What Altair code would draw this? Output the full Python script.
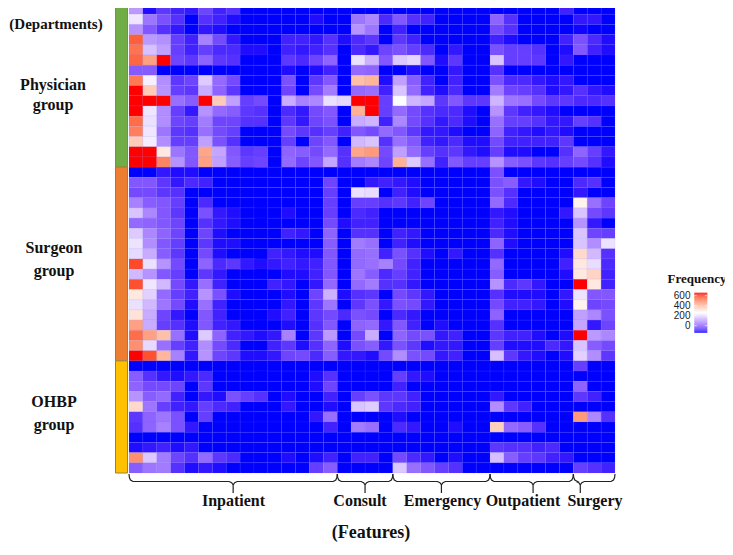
import altair as alt
import pandas as pd

N_COLS, N_ROWS = 35, 46
PLOT_W, PLOT_H = 486, 469
LEFT, TOP = 129, 4

physician_rows = [
 [100,-110,-60,-90,-100,-40,-90,-70,-130,-130,-130,-120,-130,-130,-130, -130,-120,-130,-130, -130,-130,-130,-130,-130,-130,-130, -125,-130,-130,-130,-130,-90, -130,-125,-125],
 [225,40,-20,-70,-130,-70,-90,-110,-130,-130,-130,-130,-130,-110,-130, -130,40,70,-80, -10,-70,-90,-130,-125,-130,-130, 10,-70,-125,-125,-130,-125, -100,-100,-130],
 [90,-10,-70,-100,-130,-100,-110,-120,-130,-130,-130,-130,-130,-120,-130, -130,90,40,-130, -90,-120,-130,-130,-130,-130,-130, -30,-70,-125,-130,-130,-130, -115,-120,-130],
 [560,100,85,-50,-90,60,-30,-100,-125,-130,-130,-90,-90,-100,-70, -110,-80,-60,-130, -60,-90,-120,-130,-125,-130,-130, -90,-110,-130,-130,-130,-90, -20,-80,-110],
 [530,165,110,-50,-90,-50,-80,-80,-110,-110,-120,-90,-100,-90,-70, -120,-80,-100,-40, -20,-50,-80,-130,-100,-125,-130, -20,-50,-50,-70,-120,-110, -10,-90,-110],
 [550,450,640,-40,-60,10,-60,-70,-130,-130,-130,-60,-80,-40,10, -130,215,140,-10, 175,200,-10,-110,-60,-130,-120, 170,-50,-50,-60,-120,-100, -120,-125,-125],
 [-5,-5,-130,-140,-140,-120,-120,-130,-130,-130,-130,-110,-130,-110,-90, -130,20,10,-125, -120,-110,-135,-135,-100,-120,-125, -70,-135,-135,-130,-130,-130, -125,-125,-125],
 [520,240,80,-60,-40,180,20,-30,-130,-130,-130,-20,-120,-60,-10, -130,390,410,-110, 110,0,-90,-120,-90,-125,-130, -20,-80,-80,-100,-110,-100, -130,-125,-125],
 [640,370,90,-50,-60,130,10,-60,-130,-130,-130,-40,-130,-30,50, -120,20,30,-90, 170,20,-90,-110,-80,-120,-130, 50,-40,-50,-70,-110,-100, -70,-100,-110],
 [640,640,640,30,0,640,370,110,-50,-30,-130,130,60,70,215, 200,640,640,-50, 260,145,120,-60,-10,-60,-60, 145,40,30,-30,-60,-60, -80,-80,-70],
 [640,225,80,-50,-100,90,20,0,-60,-70,-130,-80,-100,-30,-10, -130,420,640,-50, 20,-30,-70,-80,-80,-110,-120, 90,-60,-90,-100,-110,-120, -130,-130,-130],
 [540,215,80,-40,-50,50,-40,-40,-70,-70,-130,-60,-100,-40,-20, -130,130,145,-90, 70,-30,-70,-100,-80,-110,-120, 30,-50,-50,-70,-100,-100, -50,-70,-120],
 [510,225,40,-60,-70,30,-30,-50,-130,-130,-120,-30,-60,-70,-50, -90,-10,-30,20, -10,-60,-100,-100,-110,-130,-130, 10,-90,-100,-110,-100,-110, -120,-120,-120],
 [370,235,80,-50,-50,110,-20,-70,-130,-130,-120,-50,-120,-40,-10, -130,150,170,-70, 30,-10,-90,-100,-80,-110,-110, -30,-90,-90,-90,-90,-60, -130,-130,-130],
 [640,640,310,40,-10,440,120,-10,-60,-50,-130,10,0,-30,20, -70,440,460,-30, 110,20,-50,-70,-60,-100,-110, -50,-110,-110,-130,-130,-70, 10,-50,-100],
 [640,640,500,90,-10,450,110,0,-50,-40,-130,20,-40,-10,120, -70,50,70,-40, 420,180,30,-90,-10,-50,-50, 90,0,-20,-60,-70,-50, -30,-70,-110],
]
surgeon_rows = [
 [-130,-120,-100,-110,-110,-120,-130,-130,-130,-130,-130,-130,-130,-120,-130, -130,-130,-130,-130, -130,-130,-130,-130,-130,-130,-130, -20,-120,-130,-130,-130,-130, -125,-125,-130],
 [-10,-10,-60,-100,-80,-90,-130,-130,-130,-130,-130,-130,-130,-130,-40, -130,-120,-100,-90, -100,-110,-130,-130,-130,-130,-130, -20,0,-100,-110,-130,-130, -80,-70,-130],
 [-30,-30,-60,-70,-130,-130,-130,-130,-130,-130,-130,-130,-130,-130,-50, -130,215,210,-130, -90,-110,-130,-130,-130,-130,-130, -20,-70,-120,-120,-130,-130, -100,-130,-130],
 [60,0,-10,-50,-130,-80,-130,-120,-130,-130,-130,-130,-130,-120,-50, -130,-50,-50,-70, -60,-90,-40,-130,-120,-125,-130, 20,-80,-120,-125,-130,-130, 290,30,-40],
 [170,70,-10,-60,-130,-20,-100,-110,-120,-120,-120,-110,-125,-125,-50, -130,-80,-90,-130, -130,-125,-130,-130,-130,-130,-130, -100,-110,-120,-125,-130,-100, 170,-30,-60],
 [20,10,-10,-40,-130,-70,-100,-110,-120,-120,-130,-120,-125,-120,-30, -110,-90,-90,-130, -130,-120,-130,-130,-130,-130,-130, -90,-110,-120,-125,-130,-120, 90,-100,-130],
 [180,70,10,-40,-130,-40,-110,-120,-120,-120,-120,-90,-100,-120,10, -125,-70,-70,-130, -90,-100,-125,-125,-130,-130,-130, -80,-110,-120,-120,-125,-125, 170,-40,-50],
 [220,80,-10,-50,-130,-60,-110,-110,-125,-125,-120,-130,-130,-120,0, -130,50,30,-120, -90,-110,-125,-125,-125,-125,-125, 10,-110,-120,-120,-130,-130, 170,80,220],
 [205,130,0,-60,-130,-30,-110,-130,-130,-130,-90,-100,-110,-110,-10, -130,20,30,-90, -20,-70,-110,-125,-100,-130,-130, -70,-120,-125,-125,-130,-110, 340,150,-70],
 [590,215,90,-30,-130,10,-80,-60,-100,-110,-100,-90,-100,-90,-10, -130,20,30,60, -30,-90,-120,-130,-130,-130,-130, 20,-120,-125,-125,-130,-90, 310,210,-80],
 [150,90,-10,-50,-130,-60,-100,-120,-130,-130,-130,-110,-110,-90,-10, -130,40,0,-80, -50,-90,-120,-125,-125,-130,-130, 0,-130,-135,-130,-130,-110, 310,350,-90],
 [580,225,150,-30,-100,30,-90,-120,-130,-130,-90,-100,-130,-100,20, -130,20,50,-70, -70,-100,-130,-130,-130,-130,-130, 90,-80,-60,-100,-130,-120, 640,310,-90],
 [310,190,20,-50,-90,90,-20,-110,-130,-130,-130,-110,-120,-40,140, -110,-70,-60,-130, -30,-60,-100,-120,-120,-130,-130, -70,-110,-110,-110,-120,-100, 220,-10,-10],
 [215,150,40,-30,-110,30,-90,-120,-125,-125,-120,-100,-120,-60,40, -120,-60,-20,-100, -20,-30,-100,-120,-120,-130,-130, -30,-90,-90,-100,-120,-110, 290,-40,-30],
 [320,130,-40,-100,-120,-10,-90,-125,-125,-125,-110,-90,-120,-60,-30, -80,-20,-30,-120, -80,-100,-130,-120,-125,-130,-130, 10,-120,-120,-120,-130,-120, 110,70,-20],
 [450,130,-50,-70,-110,-10,-90,-100,-130,-130,-130,-110,-120,-70,-10, -130,10,20,-100, -10,-90,-130,-110,-120,-130,-130, -70,-120,-120,-120,-130,-130, 120,-100,-40],
 [540,450,390,30,-110,180,10,-90,-100,-110,-100,60,-120,-60,100, -130,-30,130,-120, 10,-30,-20,-100,-90,-120,-120, -60,-90,-90,-110,-130,-110, 640,100,70],
 [480,205,30,-50,-90,80,-30,-80,-130,-130,-90,-60,-110,-70,10, -110,-20,0,-100, -20,-60,-110,-100,-100,-120,-125, -50,-110,-110,-110,-80,-100, 170,0,-30],
 [640,580,410,60,-100,90,-40,-60,-110,-110,-100,-40,-30,-80,0, -100,-100,-110,-30, 80,-20,-30,-100,-90,-120,-125, 160,-60,-100,-110,-130,-110, 190,80,-60],
]
ohbp_rows = [
 [-125,-135,-135,-135,-135,-130,-130,-130,-130,-130,-130,-130,-130,-120,-125, -135,-135,-135,-135, -120,-130,-135,-135,-135,-135,-135, -130,-135,-135,-135,-135,-135, -50,-130,-130],
 [0,-70,-100,-110,-100,-80,-130,-130,-130,-130,-130,-130,-130,-110,-70, -130,-130,-130,-130, -50,-100,-110,-130,-125,-125,-130, -130,-130,-130,-130,-130,-130, -130,-130,-130],
 [10,-30,-30,-40,-130,-60,-130,-130,-130,-130,-130,-130,-130,-110,-40, -130,-130,-130,-130, -90,-120,-130,-130,-130,-130,-130, -135,-130,-130,-130,-130,-130, 10,-130,-120],
 [90,0,20,-90,-130,-100,-110,-20,-50,-70,-130,-110,-125,-120,-90, -130,-50,-20,-60, -60,-90,-120,-125,-130,-130,-130, -100,-120,-125,-130,-130,-130, -60,-90,-130],
 [340,40,-50,-90,-100,-50,-80,-90,-125,-130,-130,-100,-125,-125,-110, -130,170,185,-60, -80,-90,-120,-125,-130,-130,-130, 80,-60,-90,-125,-130,-130, -135,-135,-130],
 [-60,10,40,-20,-135,-50,-125,-130,-130,-130,-130,-130,-130,-100,30, -135,-130,-130,-130, -110,-120,-130,-130,-130,-130,-130, -120,-130,-130,-130,-130,-130, 460,70,-70],
 [-70,10,60,-20,-100,-130,-130,-130,-130,-130,-130,-130,-130,-120,-90, -135,50,30,-130, -80,-100,-125,-125,-110,-125,-125, 360,20,0,-70,-130,-130, -135,-135,-135],
 [-120,-120,-120,-125,-130,-130,-130,-130,-130,-130,-130,-130,-130,-130,-130, -135,-135,-135,-135, -125,-130,-130,-130,-130,-130,-130, -120,-130,-130,-130,-130,-130, -135,-135,-135],
 [-110,-100,-90,-110,-100,-135,-135,-135,-135,-135,-135,-135,-135,-135,-135, -135,-135,-135,-135, -135,-135,-135,-135,-135,-135,-135, -60,-70,-70,-90,-80,-125, -135,-135,-135],
 [480,175,50,-40,-70,20,-60,-80,-130,-130,-130,-110,-125,-110,-90, -125,-90,-90,-125, -30,-80,-100,-125,-110,-130,-130, 160,0,-50,-60,-90,-100, -125,-130,-120],
 [0,40,50,-70,-110,-100,-110,-125,-125,-125,-125,-125,-125,-50,0, -130,-130,-125,-120, 175,30,-10,-50,-70,-125,-130, -130,-130,-130,-130,-130,-130, -50,-70,-90],
]
all_rows = physician_rows + surgeon_rows + ohbp_rows
assert len(all_rows) == N_ROWS and all(len(r) == N_COLS for r in all_rows), [i for i, r in enumerate(all_rows) if len(r) != N_COLS]

group_names = ["Physician", "Surgeon", "OHBP"]
group_sizes = [16, 19, 11]
group_colors = ["#70ad47", "#ed7d31", "#ffc000"]
side_labels = [("(Departments)", 56, 24, 15), ("Physician", 53, 85, 16), ("group", 53, 105, 16),
               ("Surgeon", 54, 248, 16), ("group", 54, 271, 16), ("OHBP", 54, 402, 16), ("group", 54, 425, 16)]

feature_names = ["Inpatient", "Consult", "Emergency", "Outpatient", "Surgery"]
feature_sizes = [15, 4, 7, 6, 3]
feature_tips = [7.5, 17.0, 22.5, 29.1, 32.5]
feature_label_x = [233.5, 360, 442.5, 523, 595]

legend_ticks = [0, 200, 400, 600]

CW, CH = PLOT_W / N_COLS, PLOT_H / N_ROWS
def X(px): return (px - LEFT) / CW
def Y(px): return (px - TOP) / CH

cells = pd.DataFrame([
    {"c": c, "c2": c + 1, "r": r, "r2": r + 1, "v": v}
    for r, row in enumerate(all_rows) for c, v in enumerate(row)
])

xs = alt.Scale(domain=[0, N_COLS], nice=False, zero=False)
ys = alt.Scale(domain=[N_ROWS, 0], nice=False, zero=False)
cs = alt.Scale(domain=[-118, 265, 640], range=["#0000ff", "#ffffff", "#ff0000"], interpolate="lab", clamp=True)

def xq(f): return alt.X(f, type="quantitative", scale=xs, axis=None)
def yq(f): return alt.Y(f, type="quantitative", scale=ys, axis=None)

heat = alt.Chart(cells).mark_rect(stroke="#6a6aff", strokeWidth=0.3, strokeOpacity=0.35).encode(
    x=xq("c"), x2="c2", y=yq("r"), y2="r2",
    color=alt.Color("v:Q", scale=cs, legend=None),
)

# side bar
bar_rows, start = [], 0
for name, n, col in zip(group_names, group_sizes, group_colors):
    bar_rows.append({"x": X(115.5), "x2": X(127.5), "y": start, "y2": start + n, "g": name})
    start += n
side = alt.Chart(pd.DataFrame(bar_rows)).mark_rect(stroke="#a07f3a", strokeWidth=1).encode(
    x=xq("x"), x2="x2", y=yq("y"), y2="y2",
    fill=alt.Fill("g:N", scale=alt.Scale(domain=group_names, range=group_colors), legend=None),
)

side_df = pd.DataFrame([{"t": t, "x": X(px), "y": Y(py), "s": s} for t, px, py, s in side_labels])
side_text = alt.Chart(side_df).mark_text(font="Liberation Serif", fontWeight="bold", color="#111111").encode(
    x=xq("x"), y=yq("y"), text="t:N",
    size=alt.Size("s:Q", scale=None, legend=None),
)

# braces
corner = [(0, 0), (0.4, 3.5), (1.5, 6), (4, 7.5)]
brace_pts, start = [], 0
for name, n, tip in zip(feature_names, feature_sizes, feature_tips):
    x0, x1 = LEFT + start * CW, LEFT + (start + n) * CW
    xm = LEFT + tip * CW
    y0 = 474
    seq = [(x0 + dx, y0 + dy) for dx, dy in corner]
    seq += [(xm - 4, y0 + 7.5), (xm - 1.5, y0 + 8.7), (xm, y0 + 11), (xm, y0 + 19),
            (xm, y0 + 11), (xm + 1.5, y0 + 8.7), (xm + 4, y0 + 7.5)]
    seq += [(x1 - dx, y0 + dy) for dx, dy in reversed(corner)]
    for i, (px, py) in enumerate(seq):
        brace_pts.append({"x": X(px), "y": Y(py), "o": i, "g": name})
    start += n
braces = alt.Chart(pd.DataFrame(brace_pts)).mark_line(color="#222222", strokeWidth=1.2, clip=False).encode(
    x=xq("x"), y=yq("y"), order="o:Q", detail="g:N",
)

feat_df = pd.DataFrame([{"t": t, "x": X(px), "y": Y(501)} for t, px in zip(feature_names, feature_label_x)])
feat_text = alt.Chart(feat_df).mark_text(font="Liberation Serif", fontWeight="bold", fontSize=16, color="#111111").encode(
    x=xq("x"), y=yq("y"), text="t:N",
)
axis_df = pd.DataFrame([{"t": "(Features)", "x": X(371), "y": Y(533)}])
axis_text = alt.Chart(axis_df).mark_text(font="Liberation Serif", fontWeight="bold", fontSize=18, color="#111111").encode(
    x=xq("x"), y=yq("y"), text="t:N",
)

# colour key
def key_y(v): return Y(325.7 - v / 20)
key_vals = list(range(-140, 660, 20))
key_df = pd.DataFrame([{"x": X(694.3), "x2": X(707.3), "y": key_y(v + 20), "y2": key_y(v), "v": v + 10} for v in key_vals])
key = alt.Chart(key_df).mark_rect().encode(
    x=xq("x"), x2="x2", y=yq("y"), y2="y2",
    color=alt.Color("v:Q", scale=cs, legend=None),
)
tick_df = pd.DataFrame(
    [{"x": X(694.3), "x2": X(696.8), "y": key_y(v)} for v in legend_ticks] +
    [{"x": X(704.8), "x2": X(707.3), "y": key_y(v)} for v in legend_ticks])
key_ticks = alt.Chart(tick_df).mark_rule(color="#ffffff", strokeWidth=0.8, opacity=0.8).encode(
    x=xq("x"), x2="x2", y=yq("y"),
)
lab_df = pd.DataFrame([{"t": str(v), "x": X(690.5), "y": key_y(v)} for v in legend_ticks])
key_labels = alt.Chart(lab_df).mark_text(font="Liberation Sans", fontSize=10, align="right", color="#222222").encode(
    x=xq("x"), y=yq("y"), text="t:N",
)
title_df = pd.DataFrame([{"t": "Frequency", "x": X(697), "y": Y(279)}])
key_title = alt.Chart(title_df).mark_text(font="Liberation Serif", fontWeight="bold", fontSize=13, color="#111111").encode(
    x=xq("x"), y=yq("y"), text="t:N",
)

chart = alt.layer(
    heat, side, side_text, braces, feat_text, axis_text, key, key_ticks, key_labels, key_title
).resolve_scale(color="shared").properties(
    width=PLOT_W, height=PLOT_H,
    autosize=alt.AutoSizeParams(type="none"),
    padding={"left": LEFT - 8, "top": TOP - 8, "right": 110, "bottom": 75},
    background="#ffffff",
).configure_view(stroke=None)

chart.save("out.html", embed_options={"renderer": "svg", "actions": False})
